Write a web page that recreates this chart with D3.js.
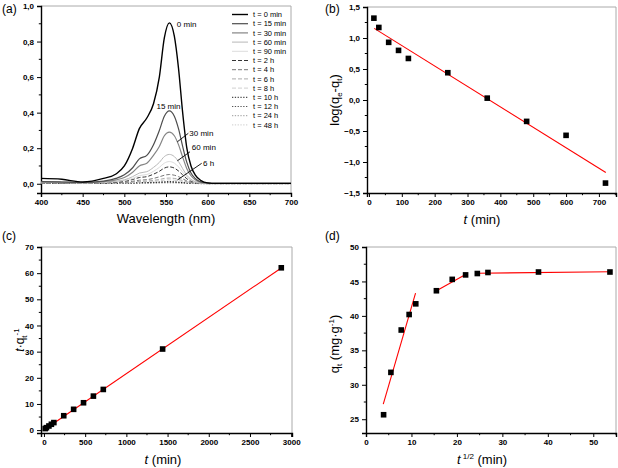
<!DOCTYPE html>
<html>
<head>
<meta charset="utf-8">
<script src="https://cdn.jsdelivr.net/npm/d3@7"></script>
<style>
  body { margin: 0; background: #fff; }
  svg, svg text { font-family: "Liberation Sans", Arial, sans-serif; }
  .tick text { font-weight: bold; font-size: 8px; }
</style>
</head>
<body>
<svg width="618" height="468" font-family="Liberation Sans, Arial, sans-serif"></svg>
<script>
var svg = d3.select('svg')

// ---- (a) spectra ----
var wavelength = [400, 425, 450, 475, 490, 500, 510, 518, 527, 535, 542, 548, 554, 560, 565, 570, 575, 580, 585, 592, 600, 610, 700]
var spectra = [
  { name: 't = 0 min', a: [0.030, 0.025, 0.010, 0.030, 0.055, 0.10, 0.20, 0.31, 0.37, 0.45, 0.60, 0.82, 0.905, 0.83, 0.65, 0.40, 0.20, 0.10, 0.05, 0.018, 0.005, 0.002, 0.002] },
  { name: 't = 15 min', a: [0.012, 0.010, 0.007, 0.015, 0.03, 0.05, 0.09, 0.14, 0.16, 0.22, 0.30, 0.38, 0.41, 0.38, 0.31, 0.21, 0.12, 0.06, 0.03, 0.01, 0.004, 0.002, 0.002] },
  { name: 't = 30 min', a: [0.010, 0.009, 0.006, 0.012, 0.022, 0.035, 0.065, 0.10, 0.115, 0.16, 0.21, 0.27, 0.29, 0.27, 0.22, 0.15, 0.085, 0.045, 0.022, 0.008, 0.003, 0.002, 0.002] },
  { name: 't = 60 min', a: [0.008, 0.007, 0.005, 0.009, 0.015, 0.022, 0.04, 0.06, 0.068, 0.092, 0.12, 0.153, 0.165, 0.153, 0.125, 0.085, 0.048, 0.025, 0.012, 0.005, 0.002, 0.001, 0.001] },
  { name: 't = 90 min', a: [0.007, 0.006, 0.004, 0.008, 0.012, 0.018, 0.03, 0.046, 0.052, 0.07, 0.092, 0.116, 0.125, 0.116, 0.095, 0.065, 0.037, 0.02, 0.01, 0.004, 0.002, 0.001, 0.001] },
  { name: 't = 2 h', a: [0.006, 0.005, 0.004, 0.007, 0.01, 0.014, 0.024, 0.035, 0.04, 0.054, 0.07, 0.088, 0.095, 0.088, 0.072, 0.05, 0.028, 0.015, 0.008, 0.003, 0.001, 0.001, 0.001] },
  { name: 't = 4 h', a: [0.005, 0.004, 0.003, 0.005, 0.007, 0.009, 0.014, 0.02, 0.023, 0.03, 0.039, 0.048, 0.052, 0.048, 0.04, 0.028, 0.016, 0.009, 0.005, 0.002, 0.001, 0.001, 0.001] },
  { name: 't = 6 h', a: [0.004, 0.004, 0.003, 0.004, 0.005, 0.006, 0.009, 0.013, 0.015, 0.019, 0.024, 0.03, 0.032, 0.03, 0.025, 0.018, 0.011, 0.006, 0.003, 0.002, 0.001, 0.001, 0.001] },
  { name: 't = 8 h', a: [0.004, 0.003, 0.003, 0.004, 0.004, 0.005, 0.007, 0.009, 0.011, 0.013, 0.017, 0.02, 0.022, 0.02, 0.017, 0.012, 0.008, 0.005, 0.003, 0.002, 0.001, 0.001, 0.001] },
  { name: 't = 10 h', a: [0.003, 0.003, 0.002, 0.003, 0.003, 0.004, 0.005, 0.006, 0.007, 0.008, 0.01, 0.011, 0.012, 0.011, 0.009, 0.007, 0.005, 0.003, 0.002, 0.001, 0.001, 0.001, 0.001] },
  { name: 't = 12 h', a: [0.003, 0.003, 0.002, 0.003, 0.003, 0.003, 0.004, 0.005, 0.005, 0.006, 0.007, 0.008, 0.009, 0.008, 0.007, 0.005, 0.004, 0.003, 0.002, 0.001, 0.001, 0.001, 0.001] },
  { name: 't = 24 h', a: [0.002, 0.002, 0.002, 0.002, 0.002, 0.003, 0.003, 0.004, 0.004, 0.005, 0.005, 0.006, 0.006, 0.006, 0.005, 0.004, 0.003, 0.002, 0.002, 0.001, 0.001, 0.001, 0.001] },
  { name: 't = 48 h', a: [0.002, 0.002, 0.001, 0.002, 0.002, 0.002, 0.002, 0.003, 0.003, 0.003, 0.004, 0.004, 0.004, 0.004, 0.003, 0.003, 0.002, 0.002, 0.001, 0.001, 0.001, 0.001, 0.001] }
]
// line styles per curve (same order)
var styles = [
  { c: '#000', w: 1.4, dash: null }, { c: '#4d4d4d', w: 1.2, dash: null }, { c: '#858585', w: 1.2, dash: null },
  { c: '#b8b8b8', w: 1, dash: null }, { c: '#dcdcdc', w: 1, dash: null },
  { c: '#333', w: 1, dash: '4,2' }, { c: '#777', w: 1, dash: '4,2' }, { c: '#aaa', w: 1, dash: '4,2' }, { c: '#d0d0d0', w: 1, dash: '4,2' },
  { c: '#222', w: 1, dash: '1.3,1.5' }, { c: '#555', w: 1, dash: '1.3,1.5' }, { c: '#999', w: 1, dash: '1.3,1.5' }, { c: '#ccc', w: 1, dash: '1.3,1.5' }
]
var notes = [
  { text: '0 min', x: 563, y: 0.88, lx: null },
  { text: '15 min', x: 553, y: 0.42, lx: null, anchor: 'middle' },
  { text: '30 min', x: 578, y: 0.27, lx: [563.6, 576.8], ly: [0.236, 0.284] },
  { text: '60 min', x: 581, y: 0.19, lx: [563.6, 578.8], ly: [0.129, 0.18] },
  { text: '6 h', x: 594.5, y: 0.10, lx: [563.6, 592.8], ly: [0.021, 0.115] }
]

// ---- (b) pseudo-first order ----
var tB = [15, 30, 60, 90, 120, 240, 360, 480, 600, 720]
var logB = [1.32, 1.17, 0.93, 0.80, 0.67, 0.44, 0.03, -0.345, -0.57, -1.34]
var fitB = [[16, 1.155], [721, -1.17]]

// ---- (c) pseudo-second order ----
var tC = [15, 30, 60, 90, 120, 240, 360, 480, 600, 720, 1440, 2880]
var tqC = [0.59, 0.94, 1.58, 2.24, 2.88, 5.5, 7.95, 10.46, 13.0, 15.55, 31.0, 62.05]
var fitC = [[16, 0.45], [2880, 62.0]]

// ---- (d) intraparticle diffusion ----
var sqrtT = [3.87, 5.48, 7.75, 9.49, 10.95, 15.49, 18.97, 21.91, 24.49, 26.83, 37.95, 53.67]
var qD = [25.65, 31.8, 37.95, 40.2, 41.75, 43.65, 45.3, 45.95, 46.15, 46.3, 46.37, 46.37]
var fitD = [
  [[3.8, 27.2], [10.9, 43.3]],
  [[15.5, 43.65], [21.9, 46.0]],
  [[24.5, 46.2], [53.7, 46.4]]
]

function comma (f) { return (d) => f(d).replace('.', ',') }

function frame (x, y, o) {
  var g = svg.append('g')
  var x0 = x.range()[0]; var x1 = x.range()[1]
  var y0 = y.range()[0]; var y1 = y.range()[1]
  g.append('path').attr('d', `M${x0},${y1}H${x1}V${y0}`)
    .attr('fill', 'none').attr('stroke', '#aaa').attr('stroke-width', 1)

  var xa = g.append('g').attr('transform', `translate(0,${y0})`)
    .call(d3.axisBottom(x).tickValues(o.xTicks).tickFormat(o.xFmt || d3.format('d')).tickSizeOuter(0).tickSize(4).tickPadding(2))
  xa.append('g').selectAll('line').data(o.xMinor).join('line')
    .attr('x1', (d) => x(d)).attr('x2', (d) => x(d)).attr('y1', 0).attr('y2', 2.2).attr('stroke', '#000')
  var ya = g.append('g').attr('transform', `translate(${x0},0)`)
    .call(d3.axisLeft(y).tickValues(o.yTicks).tickFormat(o.yFmt || d3.format('d')).tickSizeOuter(0).tickSize(4).tickPadding(3))
  ya.append('g').selectAll('line').data(o.yMinor).join('line')
    .attr('y1', (d) => y(d)).attr('y2', (d) => y(d)).attr('x1', 0).attr('x2', -2.2).attr('stroke', '#000')
  xa.attr('font-family', null).attr('font-size', null)
  ya.attr('font-family', null).attr('font-size', null)
  g.selectAll('.domain').attr('stroke-width', 1.4)
  g.selectAll('.tick line').attr('stroke-width', 1)
  return g
}

function label (x, y, t) {
  svg.append('text').attr('x', x).attr('y', y).attr('font-size', 12).text(t)
}

function range (a, b, s) { return d3.range(a, b + s / 2, s) }

// ================= (a) =================
var xA = d3.scaleLinear().domain([400, 700]).range([41, 291])
var yA = d3.scaleLinear().domain([-0.052, 1.0]).range([193, 6])
frame(xA, yA, {
  xTicks: range(400, 700, 50), xMinor: range(425, 675, 50),
  yTicks: range(0, 1, 0.2), yMinor: range(0.1, 0.9, 0.2), yFmt: comma(d3.format('.1f'))
})
var line = d3.line().curve(d3.curveMonotoneX)
svg.append('g').selectAll('path').data(spectra.slice().reverse()).join('path')
  .attr('d', (s) => line(wavelength.map((w, i) => [xA(w), yA(s.a[i])])))
  .attr('fill', 'none')
  .attr('stroke', (s) => styles[spectra.indexOf(s)].c)
  .attr('stroke-width', (s) => styles[spectra.indexOf(s)].w)
  .attr('stroke-dasharray', (s) => styles[spectra.indexOf(s)].dash)

var ng = svg.append('g').attr('font-size', 8)
notes.forEach((n) => {
  ng.append('text').attr('x', xA(n.x)).attr('y', yA(n.y)).attr('text-anchor', n.anchor || 'start').text(n.text)
  if (n.lx) {
    ng.append('line').attr('x1', xA(n.lx[0])).attr('x2', xA(n.lx[1]))
      .attr('y1', yA(n.ly[0])).attr('y2', yA(n.ly[1])).attr('stroke', '#000').attr('stroke-width', 0.9)
  }
})

var lg = svg.append('g').attr('font-size', 7.5)
spectra.forEach((s, i) => {
  var yy = 14.5 + i * 9.2
  var st = styles[i]
  lg.append('line').attr('x1', 232).attr('x2', 248).attr('y1', yy).attr('y2', yy)
    .attr('stroke', st.c).attr('stroke-width', st.w).attr('stroke-dasharray', st.dash)
  lg.append('text').attr('x', 253).attr('y', yy + 2.6).text(s.name)
})

svg.append('text').attr('x', 166).attr('y', 223).attr('text-anchor', 'middle').attr('font-size', 13).text('Wavelength (nm)')
label(2, 13, '(a)')

// ================= (b) =================
var xB = d3.scaleLinear().domain([-6, 752]).range([367, 616])
var yB = d3.scaleLinear().domain([-1.5, 1.5]).range([193, 7])
frame(xB, yB, {
  xTicks: range(0, 700, 100), xMinor: range(50, 750, 100),
  yTicks: range(-1.5, 1.5, 0.5), yMinor: range(-1.25, 1.25, 0.5), yFmt: comma(d3.format('.1f'))
})
svg.append('path').attr('d', d3.line()(fitB.map((p) => [xB(p[0]), yB(p[1])])))
  .attr('stroke', '#f00').attr('stroke-width', 1.1).attr('fill', 'none')
svg.append('g').selectAll('rect').data(tB).join('rect')
  .attr('x', (d) => xB(d) - 2.8).attr('y', (d, i) => yB(logB[i]) - 2.8)
  .attr('width', 5.6).attr('height', 5.6).attr('fill', '#000')

var tb = svg.append('text').attr('text-anchor', 'middle').attr('font-size', 13)
  .attr('transform', 'translate(339,100) rotate(-90)')
tb.append('tspan').text('log(q')
tb.append('tspan').attr('font-size', 8).attr('dy', 3).text('e')
tb.append('tspan').attr('dy', -3).text('-q')
tb.append('tspan').attr('font-size', 8).attr('dy', 3).text('t')
tb.append('tspan').attr('dy', -3).text(')')

var xb = svg.append('text').attr('x', 482).attr('y', 224).attr('text-anchor', 'middle').attr('font-size', 13)
xb.append('tspan').attr('font-style', 'italic').text('t')
xb.append('tspan').text(' (min)')
label(325, 13, '(b)')

// ================= (c) =================
var xC = d3.scaleLinear().domain([-36, 3010]).range([41, 292])
var yC = d3.scaleLinear().domain([-1.1, 70]).range([433, 247])
frame(xC, yC, {
  xTicks: range(0, 3000, 500), xMinor: range(250, 2750, 500),
  yTicks: range(0, 70, 10), yMinor: range(5, 65, 10)
})
svg.append('path').attr('d', d3.line()(fitC.map((p) => [xC(p[0]), yC(p[1])])))
  .attr('stroke', '#f00').attr('stroke-width', 1.1).attr('fill', 'none')
svg.append('g').selectAll('rect').data(tC).join('rect')
  .attr('x', (d) => xC(d) - 2.8).attr('y', (d, i) => yC(tqC[i]) - 2.8)
  .attr('width', 5.6).attr('height', 5.6).attr('fill', '#000')

var tc = svg.append('text').attr('text-anchor', 'middle').attr('font-size', 12)
  .attr('transform', 'translate(24,340) rotate(-90)')
tc.append('tspan').attr('font-style', 'italic').text('t')
tc.append('tspan').text('·q')
tc.append('tspan').attr('font-size', 8).attr('dy', 3).text('t')
tc.append('tspan').attr('font-size', 8).attr('dy', -8).text('-1')

var xc = svg.append('text').attr('x', 163).attr('y', 464).attr('text-anchor', 'middle').attr('font-size', 13)
xc.append('tspan').attr('font-style', 'italic').text('t')
xc.append('tspan').text(' (min)')
label(2, 240, '(c)')

// ================= (d) =================
var xD = d3.scaleLinear().domain([0, 55]).range([366, 616])
var yD = d3.scaleLinear().domain([23, 50]).range([433, 247])
frame(xD, yD, {
  xTicks: range(0, 50, 10), xMinor: range(5, 55, 10),
  yTicks: range(25, 50, 5), yMinor: range(27.5, 47.5, 5)
})
svg.append('g').selectAll('path').data(fitD).join('path')
  .attr('d', (s) => d3.line()(s.map((p) => [xD(p[0]), yD(p[1])])))
  .attr('stroke', '#f00').attr('stroke-width', 1.1).attr('fill', 'none')
svg.append('g').selectAll('rect').data(sqrtT).join('rect')
  .attr('x', (d) => xD(d) - 2.8).attr('y', (d, i) => yD(qD[i]) - 2.8)
  .attr('width', 5.6).attr('height', 5.6).attr('fill', '#000')

var td = svg.append('text').attr('text-anchor', 'middle').attr('font-size', 13)
  .attr('transform', 'translate(339,344) rotate(-90)')
td.append('tspan').text('q')
td.append('tspan').attr('font-size', 8).attr('dy', 3).text('t')
td.append('tspan').attr('dy', -3).text(' (mg·g')
td.append('tspan').attr('font-size', 8).attr('dy', -5).text('-1')
td.append('tspan').attr('dy', 5).text(')')

var xd = svg.append('text').attr('x', 482).attr('y', 464).attr('text-anchor', 'middle').attr('font-size', 13)
xd.append('tspan').attr('font-style', 'italic').text('t')
xd.append('tspan').attr('font-size', 8).attr('dy', -5).text(' 1/2')
xd.append('tspan').attr('dy', 5).text(' (min)')
label(325, 240, '(d)')
</script>
</body>
</html>
